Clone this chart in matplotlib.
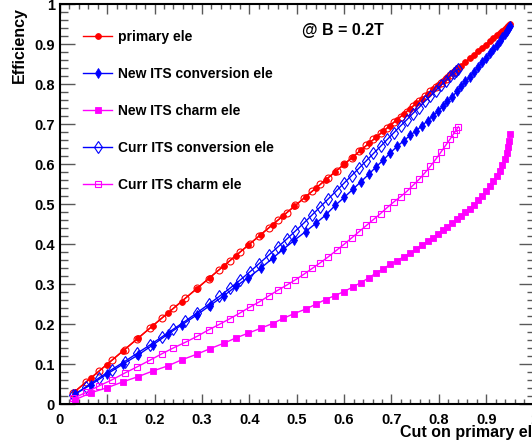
import matplotlib
matplotlib.use('Agg')
import matplotlib.pyplot as plt
from matplotlib.ticker import MultipleLocator

plt.rcParams['font.family'] = ['Liberation Sans', 'DejaVu Sans']
plt.rcParams['font.weight'] = 'bold'

# ---- data ----
x_new = [0.032, 0.066, 0.099, 0.133, 0.165, 0.196, 0.228, 0.257, 0.289, 0.317,
         0.347, 0.372, 0.398, 0.424, 0.449, 0.472, 0.495, 0.519, 0.540, 0.561,
         0.581, 0.600, 0.618, 0.635, 0.652, 0.667, 0.683, 0.697, 0.712, 0.726,
         0.739, 0.752, 0.764, 0.776, 0.787, 0.798, 0.808, 0.818, 0.828, 0.838,
         0.847, 0.856, 0.865, 0.874, 0.883, 0.891, 0.899, 0.907, 0.915, 0.922,
         0.928, 0.934, 0.939, 0.943, 0.946, 0.948, 0.950]
new_primary = [0.032, 0.066, 0.099, 0.133, 0.165, 0.196, 0.228, 0.257, 0.289, 0.317,
               0.347, 0.372, 0.398, 0.424, 0.449, 0.472, 0.495, 0.519, 0.540, 0.561,
               0.581, 0.600, 0.618, 0.635, 0.652, 0.667, 0.683, 0.697, 0.712, 0.726,
               0.739, 0.752, 0.764, 0.776, 0.787, 0.798, 0.808, 0.818, 0.828, 0.838,
               0.847, 0.856, 0.865, 0.874, 0.883, 0.891, 0.899, 0.907, 0.915, 0.922,
               0.928, 0.934, 0.939, 0.943, 0.946, 0.948, 0.950]
new_conv = [0.025, 0.049, 0.075, 0.100, 0.123, 0.148, 0.175, 0.198, 0.223, 0.247,
            0.272, 0.295, 0.317, 0.340, 0.365, 0.388, 0.410, 0.432, 0.452, 0.473,
            0.497, 0.517, 0.537, 0.556, 0.575, 0.593, 0.611, 0.628, 0.645, 0.659,
            0.672, 0.684, 0.696, 0.709, 0.721, 0.733, 0.745, 0.757, 0.769, 0.782,
            0.795, 0.807, 0.819, 0.832, 0.844, 0.855, 0.866, 0.877, 0.889, 0.899,
            0.908, 0.917, 0.926, 0.933, 0.939, 0.943, 0.947]
new_charm = [0.011, 0.029, 0.041, 0.056, 0.069, 0.083, 0.096, 0.111, 0.125, 0.139,
             0.153, 0.166, 0.178, 0.190, 0.202, 0.215, 0.227, 0.238, 0.250, 0.262,
             0.272, 0.282, 0.293, 0.304, 0.316, 0.328, 0.339, 0.350, 0.359, 0.369,
             0.378, 0.388, 0.398, 0.408, 0.417, 0.426, 0.436, 0.444, 0.453, 0.463,
             0.471, 0.480, 0.489, 0.499, 0.510, 0.521, 0.533, 0.545, 0.558, 0.571,
             0.584, 0.598, 0.612, 0.627, 0.642, 0.658, 0.675]

x_curr = [0.029, 0.056, 0.083, 0.110, 0.137, 0.164, 0.190, 0.215, 0.240, 0.265,
          0.290, 0.314, 0.337, 0.359, 0.380, 0.401, 0.421, 0.441, 0.460, 0.479,
          0.497, 0.515, 0.533, 0.550, 0.567, 0.584, 0.600, 0.616, 0.632, 0.647,
          0.662, 0.677, 0.691, 0.705, 0.719, 0.732, 0.745, 0.758, 0.770, 0.782,
          0.793, 0.804, 0.814, 0.823, 0.831, 0.837, 0.841]
curr_primary = [0.029, 0.056, 0.083, 0.110, 0.137, 0.164, 0.190, 0.215, 0.240, 0.265,
                0.290, 0.314, 0.337, 0.359, 0.380, 0.401, 0.421, 0.441, 0.460, 0.479,
                0.497, 0.515, 0.533, 0.550, 0.567, 0.584, 0.600, 0.616, 0.632, 0.647,
                0.662, 0.677, 0.691, 0.705, 0.719, 0.732, 0.745, 0.758, 0.770, 0.782,
                0.793, 0.804, 0.814, 0.823, 0.831, 0.837, 0.841]
curr_conv = [0.023, 0.044, 0.066, 0.087, 0.107, 0.128, 0.148, 0.168, 0.188, 0.208,
             0.229, 0.250, 0.270, 0.290, 0.310, 0.331, 0.352, 0.373, 0.393, 0.413,
             0.433, 0.453, 0.474, 0.494, 0.514, 0.534, 0.553, 0.572, 0.591, 0.609,
             0.627, 0.645, 0.662, 0.679, 0.696, 0.711, 0.727, 0.742, 0.757, 0.771,
             0.784, 0.797, 0.809, 0.820, 0.829, 0.834, 0.838]
curr_charm = [0.015, 0.030, 0.046, 0.061, 0.078, 0.094, 0.110, 0.126, 0.141, 0.155,
              0.170, 0.186, 0.200, 0.214, 0.228, 0.243, 0.256, 0.271, 0.285, 0.298,
              0.311, 0.325, 0.340, 0.354, 0.369, 0.385, 0.400, 0.416, 0.432, 0.447,
              0.462, 0.477, 0.492, 0.506, 0.519, 0.532, 0.547, 0.562, 0.578, 0.595,
              0.612, 0.630, 0.647, 0.662, 0.676, 0.686, 0.694]

legend_labels = ["primary ele", "New ITS conversion ele", "New ITS charm ele",
                 "Curr ITS conversion ele", "Curr ITS charm ele"]
tick_values = [0.0, 0.1, 0.2, 0.3, 0.4, 0.5, 0.6, 0.7, 0.8, 0.9, 1.0]
tick_labels = ["0", "0.1", "0.2", "0.3", "0.4", "0.5", "0.6", "0.7", "0.8", "0.9", "1"]
x_title = "Cut on primary ele efficiency"
y_title = "Efficiency"
annotation = "@ B = 0.2T"

RED, BLUE, MAG = '#ff0000', '#0000ff', '#ff00ff'

W, H = 532, 448
fig = plt.figure(figsize=(W / 100, H / 100), dpi=100)
ax = fig.add_axes([59.7 / W, (H - 404.3) / H, 474 / W, 400 / H])

h1, = ax.plot(x_new, new_primary, color=RED, lw=1, marker='o', ms=4.2, mew=0.6)
hc1, = ax.plot(x_curr, curr_primary, color=RED, lw=1, marker='o', ms=5, mfc='none', mew=0.8)
h2, = ax.plot(x_new, new_conv, color=BLUE, lw=1, marker='d', ms=5.5, mew=0.6)
h4, = ax.plot(x_curr, curr_conv, color=BLUE, lw=1, marker='d', ms=6, mfc='none', mew=0.8)
h3, = ax.plot(x_new, new_charm, color=MAG, lw=1, marker='s', ms=3.8, mew=0.6)
h5, = ax.plot(x_curr, curr_charm, color=MAG, lw=1, marker='s', ms=4.6, mfc='none', mew=0.8)

ax.set_xlim(0, 1)
ax.set_ylim(0, 1)
ax.set_xticks(tick_values)
ax.set_xticklabels(tick_labels)
ax.set_yticks(tick_values)
ax.set_yticklabels(tick_labels)
ax.xaxis.set_minor_locator(MultipleLocator(0.02))
ax.yaxis.set_minor_locator(MultipleLocator(0.02))
ax.tick_params(which='both', direction='in', top=True, right=True,
               color='0.35', width=1.0, labelsize=10.5)
ax.tick_params(axis='x', which='major', length=7.2, pad=6)
ax.tick_params(axis='x', which='minor', length=3.6)
ax.tick_params(axis='y', which='major', length=10.5, pad=3.4)
ax.tick_params(axis='y', which='minor', length=5.4)
for lab in ax.get_xticklabels() + ax.get_yticklabels():
    lab.set_fontweight('bold')
for sp in ax.spines.values():
    sp.set_linewidth(1.5)

leg = ax.legend([h1, h2, h3, h4, h5], legend_labels, loc='upper left',
                bbox_to_anchor=(83 / W, 1 - 30 / H), bbox_transform=fig.transFigure,
                frameon=False, prop={'weight': 'bold', 'size': 10},
                labelspacing=1.65, handlelength=2.1, handletextpad=0.45,
                borderpad=0, borderaxespad=0, numpoints=1)

fig.text(343.3 / W, 1 - 30.7 / H, annotation, ha='center', va='center',
         fontsize=11.5, fontweight='bold')
fig.text(400 / W, 1 - 437.3 / H, x_title, ha='left', va='baseline',
         fontsize=11.5, fontweight='bold')
fig.text(19.5 / W, 1 - 7 / H, y_title, ha='center', va='top', rotation=90,
         fontsize=11.5, fontweight='bold')

fig.savefig('out.png', dpi=100)
